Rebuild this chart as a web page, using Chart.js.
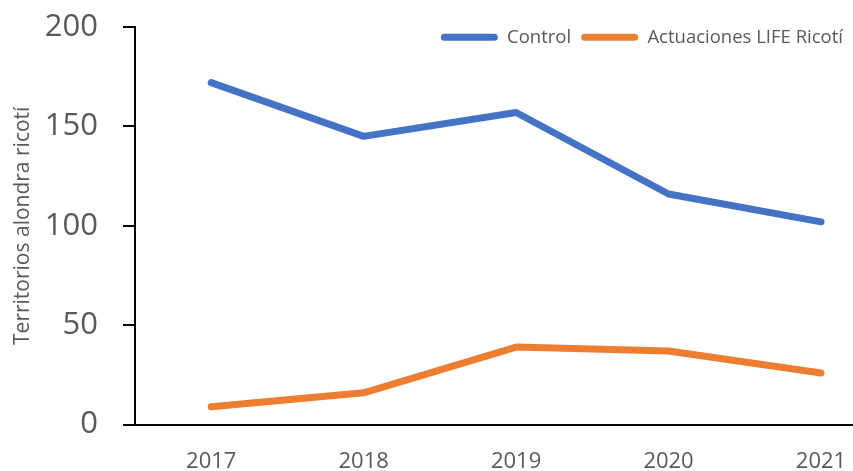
<!DOCTYPE html>
<html>
<head>
<meta charset="utf-8">
<script src="https://cdn.jsdelivr.net/npm/chart.js@4/dist/chart.umd.min.js"></script>
<style>
html,body{margin:0;padding:0;background:#fff;overflow:hidden;}
#wrap{width:853px;height:471px;position:relative;}
</style>
</head>
<body>
<div id="wrap"><canvas id="c"></canvas></div>
<script>
const years = [2017, 2018, 2019, 2020, 2021];
const controlValues = [172, 145, 157, 116, 102];
const lifeValues = [9, 16, 39, 37, 26];
const yTicks = [0, 50, 100, 150, 200];
const seriesNames = ['Control', 'Actuaciones LIFE Ricotí'];
const yTitle = 'Territorios alondra ricotí';

const FONT = "'Open Sans', sans-serif";
const GREY = '#595959';
const BLUE = '#4472C4';
const ORANGE = '#ED7D31';

function pts(vals){ return years.map((y,i)=>({x:y, y:vals[i]})); }

// Let the legend float over the top of the plot area (as in the reference)
const floatLegend = {
  id: 'floatLegend',
  beforeUpdate(chart){
    const lg = chart.legend;
    if (lg && !lg._patched){
      const orig = lg.fit.bind(lg);
      lg.fit = function(){ orig(); this.height = 0; };
      lg._patched = true;
    }
  },
  afterLayout(chart){
    const lg = chart.legend;
    if (lg){ lg.top = 18; lg.bottom = 73; lg.height = 55; }
  }
};

new Chart(document.getElementById('c'), {
  type: 'line',
  plugins: [floatLegend],
  data: {
    datasets: [
      {label: seriesNames[0], data: pts(controlValues), borderColor: BLUE, backgroundColor: BLUE,
       borderWidth: 7, pointRadius: 0, pointHoverRadius: 0, tension: 0, borderCapStyle: 'round', borderJoinStyle: 'round'},
      {label: seriesNames[1], data: pts(lifeValues), borderColor: ORANGE, backgroundColor: ORANGE,
       borderWidth: 7, pointRadius: 0, pointHoverRadius: 0, tension: 0, borderCapStyle: 'round', borderJoinStyle: 'round'}
    ]
  },
  options: {
    responsive: true,
    maintainAspectRatio: false,
    animation: false,
    layout: {padding: {top: 27, right: 0, bottom: -28, left: 0}},
    plugins: {
      tooltip: {enabled: false},
      legend: {
        position: 'top',
        align: 'end',
        labels: {
          font: {family: FONT, size: 18.5},
          color: GREY,
          boxWidth: 57,
          boxHeight: 7,
          padding: 10,
          useBorderRadius: true,
          borderRadius: 3.5,
          generateLabels(chart){
            return chart.data.datasets.map((d,i)=>({
              text: d.label, fillStyle: d.borderColor, strokeStyle: d.borderColor,
              lineWidth: 0, datasetIndex: i, fontColor: GREY, borderRadius: 3.5
            }));
          }
        }
      }
    },
    scales: {
      x: {
        type: 'linear',
        min: 2016.5,
        max: 2021.21,
        afterBuildTicks(axis){ axis.ticks = years.map(v=>({value:v})); },
        afterFit(axis){ axis.paddingLeft = 0; axis.paddingRight = 0; },
        grid: {display: false, drawTicks: false},
        border: {display: true, color: '#000', width: 2},
        ticks: {font: {family: FONT, size: 22}, color: GREY, padding: 24, maxRotation: 0, autoSkip: false, callback: v => String(v)}
      },
      y: {
        min: 0,
        max: 200,
        afterBuildTicks(axis){ axis.ticks = yTicks.map(v=>({value:v})); },
        afterFit(axis){ axis.width = 135; axis.paddingTop = 0; axis.paddingBottom = 0; },
        grid: {display: true, drawOnChartArea: false, drawTicks: true, tickLength: 12, color: '#000', lineWidth: 2},
        border: {display: true, color: '#000', width: 2},
        ticks: {font: {family: FONT, size: 31}, color: GREY, padding: 25},
        title: {display: true, text: yTitle, font: {family: FONT, size: 21}, color: GREY, padding: {top: 10, bottom: 0}}
      }
    }
  }
});
</script>
</body>
</html>
